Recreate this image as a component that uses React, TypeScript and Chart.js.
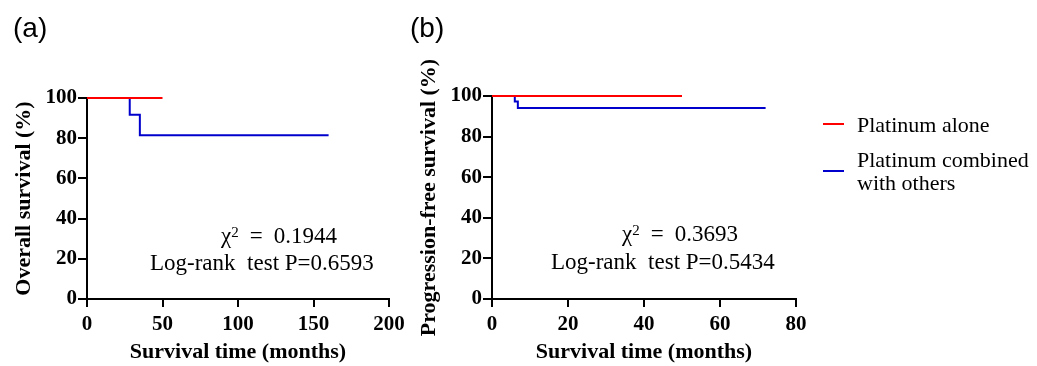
import React, { useEffect, useRef } from "react";
import { Chart, registerables } from "chart.js";

Chart.register(...registerables);

// ---- data ----
const osRedTime = [0, 50];
const osRedSurv = [100, 100];
const osBlueTime = [0, 28.3, 35, 160];
const osBlueSurv = [100, 91.7, 81.5, 81.5];

const pfsRedTime = [0, 50];
const pfsRedSurv = [100, 100];
const pfsBlueTime = [0, 6.0, 6.8, 72];
const pfsBlueSurv = [100, 97.3, 94.1, 94.1];

const yTickStep = 20;
const yMax = 100;
const osXMax = 200;
const osXStep = 50;
const pfsXMax = 80;
const pfsXStep = 20;

const seriesNames = ["Platinum alone", "Platinum combined with others"];
const panelLabels = ["(a)", "(b)"];
const yTitles = ["Overall survival (%)", "Progression-free survival (%)"];
const xTitle = "Survival time (months)";
const chiSq = ["0.1944", "0.3693"];
const pValues = ["0.6593", "0.5434"];

const RED = "rgb(255,0,0)";
const BLUE = "rgb(0,0,205)";
const SERIF = '"Liberation Serif", "Times New Roman", serif';

function pts(t: number[], s: number[]) {
  return t.map((x, i) => ({ x, y: s[i] }));
}

type PanelCfg = {
  left: number;
  redT: number[];
  redS: number[];
  blueT: number[];
  blueS: number[];
  xMax: number;
  xStep: number;
  yTitle: string;
  chi: string;
  p: string;
  axisLeft: number;
  top: number;
  padRight: number;
  yTitlePad: number;
  ann: { x1: number; y1: number; x2: number; y2: number };
};

function Panel({ cfg }: { cfg: PanelCfg }) {
  const ref = useRef<HTMLCanvasElement | null>(null);
  useEffect(() => {
    const annot = {
      id: "annot",
      afterDatasetsDraw(chart: any) {
        const ctx = chart.ctx;
        ctx.save();
        ctx.fillStyle = "#000";
        ctx.textAlign = "left";
        ctx.textBaseline = "alphabetic";
        const big = `23px ${SERIF}`;
        ctx.font = big;
        let x = cfg.ann.x1;
        ctx.fillText("χ", x, cfg.ann.y1);
        x += ctx.measureText("χ").width;
        ctx.font = `15px ${SERIF}`;
        ctx.fillText("2", x, cfg.ann.y1 - 6);
        x += ctx.measureText("2").width + 11;
        ctx.font = big;
        ctx.fillText("=", x, cfg.ann.y1);
        x += ctx.measureText("=").width + 11;
        ctx.fillText(cfg.chi, x, cfg.ann.y1);
        ctx.fillText("Log-rank  test P=" + cfg.p, cfg.ann.x2, cfg.ann.y2);
        ctx.restore();
      },
    };
    const tickFont = { family: SERIF, size: 21, weight: "bold" as const };
    const titleFont = { family: SERIF, size: 22, weight: "bold" as const };
    const chart = new Chart(ref.current as HTMLCanvasElement, {
      type: "line",
      data: {
        datasets: [
          {
            label: seriesNames[0],
            data: pts(cfg.redT, cfg.redS),
            borderColor: RED,
            backgroundColor: RED,
            borderWidth: 2,
            pointRadius: 0,
            stepped: true,
            fill: false,
            clip: false as any,
          },
          {
            label: seriesNames[1],
            data: pts(cfg.blueT, cfg.blueS),
            borderColor: BLUE,
            backgroundColor: BLUE,
            borderWidth: 2,
            pointRadius: 0,
            stepped: true,
            fill: false,
            clip: false as any,
          },
        ],
      },
      options: {
        responsive: false,
        animation: false,
        devicePixelRatio: 1,
        layout: { padding: { left: 0, top: cfg.top, right: cfg.padRight, bottom: 0 } },
        plugins: { legend: { display: false }, tooltip: { enabled: false } },
        scales: {
          x: {
            type: "linear",
            min: 0,
            max: cfg.xMax,
            ticks: { stepSize: cfg.xStep, color: "#000", font: tickFont, padding: 5, maxRotation: 0, autoSkip: false },
            grid: { drawOnChartArea: false, drawTicks: true, tickLength: 8, color: "#000", lineWidth: 2 },
            border: { display: true, color: "#000", width: 2 },
            title: { display: true, text: xTitle, color: "#000", font: titleFont, padding: 0 },
            afterFit: (s: any) => {
              s.height = 67;
            },
          },
          y: {
            type: "linear",
            min: 0,
            max: yMax,
            ticks: { stepSize: yTickStep, color: "#000", font: tickFont, padding: 1 },
            grid: { drawOnChartArea: false, drawTicks: true, tickLength: 9, color: "#000", lineWidth: 2 },
            border: { display: true, color: "#000", width: 2 },
            title: { display: true, text: cfg.yTitle, color: "#000", font: titleFont, padding: { top: cfg.yTitlePad, bottom: 0 } },
            afterFit: (s: any) => {
              s.width = cfg.axisLeft;
            },
          },
        },
      },
      plugins: [annot],
    } as any);
    return () => chart.destroy();
  }, []);
  return (
    <canvas
      ref={ref}
      width={420}
      height={366}
      style={{ position: "absolute", left: cfg.left, top: 0, width: 420, height: 366 }}
    />
  );
}

const panelA: PanelCfg = {
  left: 0,
  redT: osRedTime,
  redS: osRedSurv,
  blueT: osBlueTime,
  blueS: osBlueSurv,
  xMax: osXMax,
  xStep: osXStep,
  yTitle: yTitles[0],
  chi: chiSq[0],
  p: pValues[0],
  axisLeft: 87,
  top: 98,
  padRight: 31,
  yTitlePad: 11,
  ann: { x1: 221, y1: 243, x2: 150, y2: 270 },
};

const panelB: PanelCfg = {
  left: 400,
  redT: pfsRedTime,
  redS: pfsRedSurv,
  blueT: pfsBlueTime,
  blueS: pfsBlueSurv,
  xMax: pfsXMax,
  xStep: pfsXStep,
  yTitle: yTitles[1],
  chi: chiSq[1],
  p: pValues[1],
  axisLeft: 92,
  top: 96,
  padRight: 24,
  yTitlePad: 16,
  ann: { x1: 222, y1: 241, x2: 151, y2: 269 },
};

export default function App() {
  const legendText: React.CSSProperties = {
    position: "absolute",
    left: 857,
    font: `22px ${SERIF}`,
    lineHeight: "23px",
    color: "#000",
    whiteSpace: "nowrap",
  };
  const labelStyle: React.CSSProperties = {
    position: "absolute",
    top: 14,
    font: '28px "Liberation Sans", Arial, sans-serif',
    lineHeight: "28px",
    color: "#000",
  };
  return (
    <div style={{ position: "absolute", left: 0, top: 0, width: 1037, height: 366, background: "#fff", overflow: "hidden" }}>
      <Panel cfg={panelA} />
      <Panel cfg={panelB} />
      <div style={{ ...labelStyle, left: 13 }}>{panelLabels[0]}</div>
      <div style={{ ...labelStyle, left: 410 }}>{panelLabels[1]}</div>
      <div style={{ position: "absolute", left: 823, top: 123, width: 21, height: 2, background: RED }} />
      <div style={{ ...legendText, top: 113 }}>{seriesNames[0]}</div>
      <div style={{ position: "absolute", left: 823, top: 170, width: 21, height: 2, background: BLUE }} />
      <div style={{ ...legendText, top: 148 }}>
        Platinum combined
        <br />
        with others
      </div>
    </div>
  );
}
